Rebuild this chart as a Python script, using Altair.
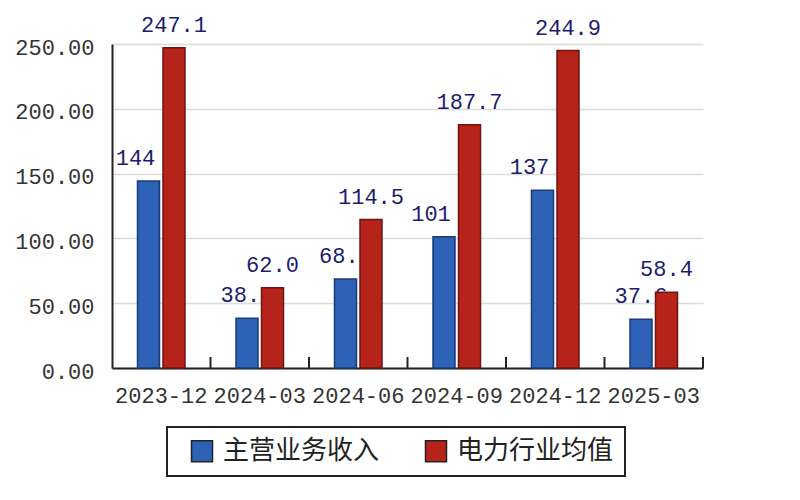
import altair as alt
import pandas as pd

periods = ["2023-12", "2024-03", "2024-06", "2024-09", "2024-12", "2025-03"]
revenue = [144.2, 38.4, 68.6, 101.3, 137.2, 37.6]
industry = [247.1, 62.0, 114.5, 187.7, 244.9, 58.4]
series = ["主营业务收入", "电力行业均值"]
fill_colors = ["#2d62b6", "#b5231a"]
stroke_colors = ["#1d3a78", "#6e1610"]
y_ticks = [0, 50, 100, 150, 200, 250]

rows = []
for p, r, i in zip(periods, revenue, industry):
    rows.append({"period": p, "series": series[0], "value": r})
    rows.append({"period": p, "series": series[1], "value": i})
df = pd.DataFrame(rows)

MONO = "Liberation Mono"
FS = 22


def x_enc(**kw):
    return alt.X(
        "period:N", sort=periods,
        scale=alt.Scale(paddingInner=0, paddingOuter=0),
        axis=alt.Axis(title=None, labelAngle=0, ticks=False, grid=False,
                      domainColor="#222222", domainWidth=2,
                      labelFont=MONO, labelFontSize=FS, labelColor="#333333",
                      labelPadding=17),
        **kw)


xoff = alt.XOffset("series:N", sort=series,
                   scale=alt.Scale(paddingInner=0.137, paddingOuter=1))
y_enc = alt.Y("value:Q",
              scale=alt.Scale(domain=[0, 250], nice=False),
              axis=alt.Axis(title=None, values=y_ticks, format=".2f", ticks=False,
                            domainColor="#222222", domainWidth=2,
                            gridColor="#dcdcdc", gridWidth=1.5,
                            labelFont=MONO, labelFontSize=FS, labelColor="#333333",
                            labelPadding=18, labelOffset=3))
color_enc = alt.Color(
    "series:N", sort=series,
    scale=alt.Scale(domain=series, range=fill_colors),
    legend=alt.Legend(title=None, orient="none", legendX=55, legendY=383,
                      direction="horizontal", symbolType="square", symbolSize=441,
                      symbolStrokeColor="#222222", symbolStrokeWidth=1.5,
                      symbolOffset=11,
                      labelFont="Noto Sans CJK SC", labelFontSize=26,
                      labelColor="#222222", labelOffset=8, columnPadding=32,
                      padding=11, strokeColor="#222222",
                      labelExpr="datum.label + '  '"))

base = alt.Chart(df)
blue = base.transform_filter(alt.datum.series == series[0])
red = base.transform_filter(alt.datum.series == series[1])

blue_bars = blue.mark_bar(stroke=stroke_colors[0], strokeWidth=1.5).encode(
    x=x_enc(), xOffset=xoff, y=y_enc, color=color_enc)
red_bars = red.mark_bar(stroke=stroke_colors[1], strokeWidth=1.5).encode(
    x=x_enc(), xOffset=xoff, y=y_enc, color=color_enc)

label_style = dict(font=MONO, fontSize=FS, color="#1c1c6e", baseline="bottom", dy=-11)
blue_text_big = blue.transform_filter(alt.datum.value >= 100).mark_text(
    dx=-13, **label_style).encode(x=x_enc(), xOffset=xoff, y=y_enc,
                                  text=alt.Text("value:Q", format=".0f"))
blue_text_small = blue.transform_filter(alt.datum.value < 100).mark_text(
    **label_style).encode(x=x_enc(), xOffset=xoff, y=y_enc,
                          text=alt.Text("value:Q", format=".1f"))
red_text = red.mark_text(**label_style).encode(
    x=x_enc(), xOffset=xoff, y=y_enc, text=alt.Text("value:Q", format=".1f"))

tick_df = pd.DataFrame({"period": periods})
ticks = alt.Chart(tick_df).mark_rule(color="#222222", strokeWidth=2).encode(
    x=x_enc(bandPosition=1), y=alt.value(313), y2=alt.value(324))

chart = alt.layer(blue_bars, blue_text_big, blue_text_small, red_bars, red_text,
                  ticks).properties(
    width=591, height=324,
    autosize=alt.AutoSizeParams(type="none"),
    padding={"left": 104, "top": 36, "right": 89, "bottom": 124},
    background="white",
).configure_view(stroke=None).configure_legend(strokeWidth=2)

chart.save("out.html", embed_options={"renderer": "svg", "actions": False})
